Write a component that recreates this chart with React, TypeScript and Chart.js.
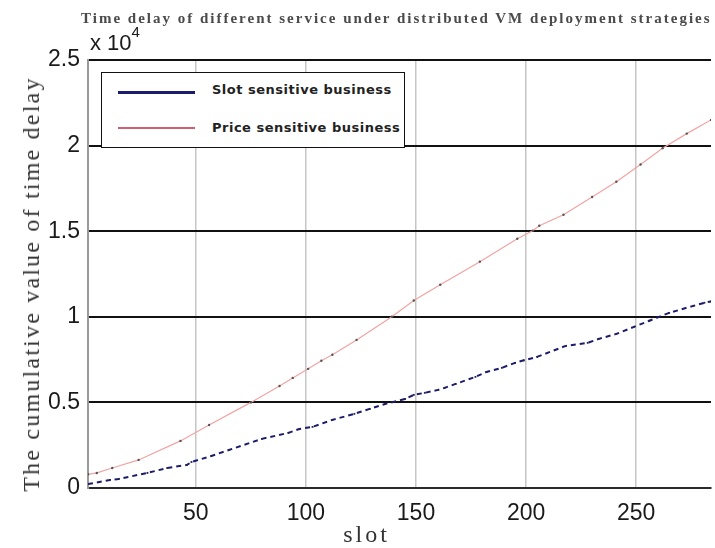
import React, { useEffect, useRef } from "react";
import { Chart, registerables } from "chart.js";

Chart.register(...registerables);

// ---- data ----
const titleText = "Time delay of different service under distributed VM deployment strategies";
const xAxisTitle = "slot";
const yAxisTitle = "The cumulative value of time delay";
const seriesNames = ["Slot sensitive business", "Price sensitive business"];

const xTicks = [50, 100, 150, 200, 250];
const yTicks = [0, 5000, 10000, 15000, 20000, 25000];
const xMin = 1;
const xMax = 284;

const slotBizX = [1, 11, 15, 28, 37, 46, 48, 57, 65, 80, 92, 97, 103, 112, 122, 129, 136, 145, 149, 154, 160, 163, 168, 177, 182, 189, 195, 199, 205, 218, 228, 233, 241, 249, 256, 265, 276, 281, 284];
const slotBizY = [230, 470, 530, 880, 1170, 1350, 1520, 1870, 2220, 2870, 3220, 3450, 3570, 3980, 4330, 4620, 4910, 5200, 5440, 5560, 5730, 5850, 6080, 6490, 6780, 7020, 7310, 7460, 7660, 8300, 8480, 8710, 9000, 9410, 9770, 10230, 10640, 10820, 10900];

const priceBizX = [1, 5, 12, 24, 43, 56, 75, 88, 94, 101, 107, 112, 123, 139, 149, 161, 179, 196, 203, 206, 217, 230, 241, 252, 262, 273, 284];
const priceBizY = [800, 880, 1170, 1640, 2750, 3680, 5000, 5960, 6430, 6960, 7430, 7780, 8650, 10000, 10950, 11870, 13220, 14560, 15030, 15320, 15960, 17000, 17890, 18900, 19850, 20700, 21500];

const SLOT_COLOR = "#1c1c6e";
const PRICE_COLOR = "#f2a3a3";

export default function App() {
  const canvasRef = useRef<HTMLCanvasElement | null>(null);

  useEffect(() => {
    const canvas = canvasRef.current;
    if (!canvas) return;
    const chart = new Chart(canvas, {
      type: "line",
      data: {
        datasets: [
          {
            label: seriesNames[0],
            data: slotBizX.map((x, i) => ({ x, y: slotBizY[i] })),
            borderColor: SLOT_COLOR,
            borderWidth: 2,
            borderDash: [5, 4],
            pointRadius: 1.3,
            pointStyle: "rect",
            pointBackgroundColor: "#222255",
            pointBorderWidth: 0,
            tension: 0,
            fill: false,
          },
          {
            label: seriesNames[1],
            data: priceBizX.map((x, i) => ({ x, y: priceBizY[i] })),
            borderColor: PRICE_COLOR,
            borderWidth: 1.2,
            pointRadius: 1.2,
            pointBackgroundColor: "#555555",
            pointBorderWidth: 0,
            tension: 0,
            fill: false,
          },
        ],
      },
      options: {
        animation: false,
        responsive: false,
        devicePixelRatio: 1,
        layout: { padding: { left: 0, right: 0, top: 60, bottom: 0 } },
        plugins: {
          legend: { display: false },
          title: { display: false },
          tooltip: { enabled: false },
        },
        scales: {
          x: {
            type: "linear",
            min: xMin,
            max: xMax,
            afterFit: (s: any) => {
              s.height = 60;
            },
            afterBuildTicks: (s: any) => {
              s.ticks = xTicks.map((v) => ({ value: v }));
            },
            grid: { color: "#c6c6c6", lineWidth: 1.5, drawTicks: false },
            border: { color: "#2a2a2a", width: 2 },
            ticks: {
              padding: 12,
              color: "#1a1a1a",
              font: { family: "'Liberation Sans', Arial, sans-serif", size: 23 },
              callback: (v: any) => String(v),
            },
          },
          y: {
            type: "linear",
            min: 0,
            max: 25000,
            afterFit: (s: any) => {
              s.width = 88;
            },
            afterBuildTicks: (s: any) => {
              s.ticks = yTicks.map((v) => ({ value: v }));
            },
            grid: { color: "#111111", lineWidth: 2, drawTicks: false },
            border: { color: "#9a9a9a", width: 2 },
            ticks: {
              padding: 8,
              color: "#1a1a1a",
              font: { family: "'Liberation Sans', Arial, sans-serif", size: 23 },
              callback: (v: any) => String(Number(v) / 10000),
            },
          },
        },
      },
    });
    return () => chart.destroy();
  }, []);

  return (
    <div style={{ position: "absolute", left: 0, top: 0, width: 715, height: 548, background: "#fff", overflow: "hidden" }}>
      <canvas ref={canvasRef} width={715} height={548} style={{ display: "block" }} />
      <div
        style={{
          position: "absolute",
          left: 81,
          top: 10,
          font: "bold 15px 'Liberation Serif', 'Times New Roman', serif",
          letterSpacing: "2px",
          color: "#4a4a4a",
          whiteSpace: "nowrap",
          lineHeight: "16px",
        }}
      >
        {titleText}
      </div>
      <div
        style={{
          position: "absolute",
          left: 90,
          top: 32,
          font: "22px 'Liberation Sans', Arial, sans-serif",
          lineHeight: "22px",
          color: "#1a1a1a",
          whiteSpace: "nowrap",
        }}
      >
        x 10<span style={{ fontSize: 15, position: "relative", top: -13 }}>4</span>
      </div>
      <div
        style={{
          position: "absolute",
          left: 31,
          top: 284,
          transform: "translate(-50%, -50%) rotate(-90deg)",
          font: "24px 'Liberation Serif', 'Times New Roman', serif",
          letterSpacing: "2.2px",
          color: "#333",
          whiteSpace: "nowrap",
          lineHeight: "24px",
        }}
      >
        {yAxisTitle}
      </div>
      <div
        style={{
          position: "absolute",
          left: 366.5,
          top: 522,
          transform: "translateX(-50%)",
          font: "24px 'Liberation Serif', 'Times New Roman', serif",
          letterSpacing: "3px",
          color: "#333",
          whiteSpace: "nowrap",
          lineHeight: "24px",
        }}
      >
        {xAxisTitle}
      </div>
      <div
        style={{
          position: "absolute",
          left: 101,
          top: 72,
          width: 304,
          height: 76,
          boxSizing: "border-box",
          border: "1.5px solid #111",
          background: "#fff",
        }}
      >
        <div style={{ position: "absolute", left: 16, top: 18, width: 77, height: 3, background: SLOT_COLOR }} />
        <div
          style={{
            position: "absolute",
            left: 110,
            top: 9,
            font: "bold 13px 'DejaVu Sans', sans-serif",
            letterSpacing: "0.5px",
            color: "#222",
            whiteSpace: "nowrap",
            lineHeight: "16px",
          }}
        >
          {seriesNames[0]}
        </div>
        <div style={{ position: "absolute", left: 16, top: 54, width: 77, height: 2, background: "#d06070" }} />
        <div
          style={{
            position: "absolute",
            left: 110,
            top: 47,
            font: "bold 13px 'DejaVu Sans', sans-serif",
            letterSpacing: "0.5px",
            color: "#222",
            whiteSpace: "nowrap",
            lineHeight: "16px",
          }}
        >
          {seriesNames[1]}
        </div>
      </div>
    </div>
  );
}
